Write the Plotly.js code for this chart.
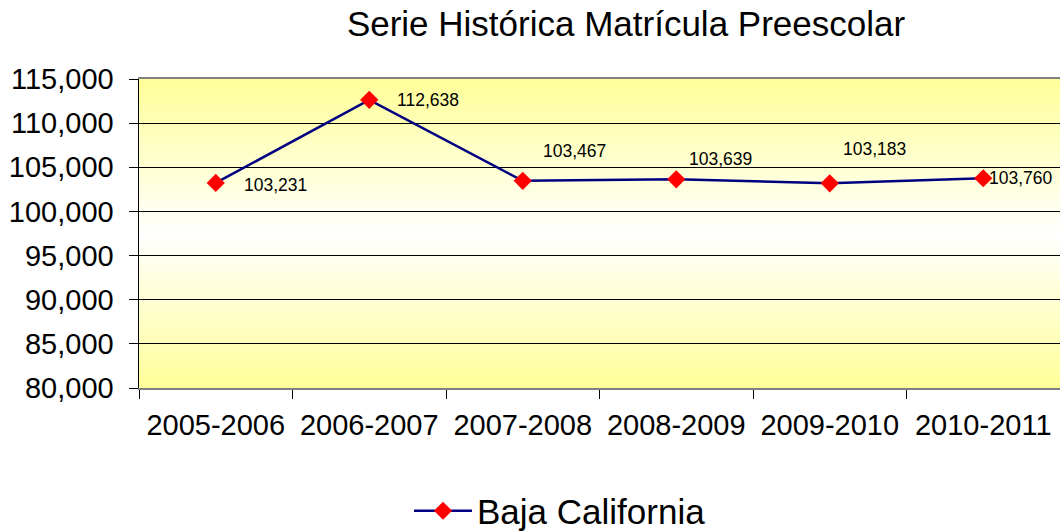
<!DOCTYPE html>
<html>
<head>
<meta charset="utf-8">
<script src="https://cdn.plot.ly/plotly-3.0.1.min.js"></script>
<style>
html,body{margin:0;padding:0;background:#fff;overflow:hidden;}
#chart{width:1060px;height:531px;}
</style>
</head>
<body>
<div id="chart"></div>
<script>
const categories = ["2005-2006","2006-2007","2007-2008","2008-2009","2009-2010","2010-2011"];
const seriesName = "Baja California";
const values = [103231, 112638, 103467, 103639, 103183, 103760];
const yTickVals = [80000, 85000, 90000, 95000, 100000, 105000, 110000, 115000];
const yTickText = ["80,000","85,000","90,000","95,000","100,000","105,000","110,000","115,000"];
// label offsets (style only, in px)
const labelShiftX = [26, 26, 18, 11, 11, 4];
const labelShiftY = [-2, 0, 30, 20, 34, 0];

const fmt = v => v.toLocaleString('en-US');
const FONT = "'Liberation Sans', Arial, sans-serif";

const gradSvg = '<svg xmlns="http://www.w3.org/2000/svg" width="100" height="100" preserveAspectRatio="none">' +
  '<defs><linearGradient id="g" x1="0" y1="0" x2="0" y2="1">' +
  '<stop offset="0" stop-color="#ffff99"/>' +
  '<stop offset="0.5" stop-color="#ffffff"/>' +
  '<stop offset="1" stop-color="#ffff99"/>' +
  '</linearGradient></defs><rect width="100" height="100" fill="url(#g)"/></svg>';
const gradUri = 'data:image/svg+xml;base64,' + btoa(gradSvg);

const trace = {
  type: 'scatter',
  mode: 'lines+markers',
  name: seriesName,
  x: categories,
  y: values,
  line: {color: '#000080', width: 2.5},
  marker: {symbol: 'diamond', size: 14, color: '#ff0000', line: {width: 0}},
  hoverinfo: 'skip'
};

const annotations = categories.map((c, i) => ({
  x: c, y: values[i], xref: 'x', yref: 'y',
  text: fmt(values[i]),
  showarrow: false,
  xanchor: 'left', yanchor: 'middle',
  xshift: labelShiftX[i], yshift: labelShiftY[i],
  font: {family: FONT, size: 17.5, color: '#000'}
}));

const layout = {
  width: 1060, height: 531,
  margin: {l: 139, r: 0, t: 79, b: 143, autoexpand: false},
  paper_bgcolor: '#ffffff',
  plot_bgcolor: 'rgba(0,0,0,0)',
  font: {family: FONT, color: '#000'},
  title: {
    text: 'Serie Histórica Matrícula Preescolar',
    font: {size: 35, color: '#000'},
    xref: 'container', yref: 'container',
    x: 626/1060, y: 1 - 24/531, xanchor: 'center', yanchor: 'middle'
  },
  xaxis: {
    type: 'category',
    range: [-0.5, 5.5],
    showgrid: false,
    showline: true, linecolor: '#808080', linewidth: 2, mirror: true,
    ticks: 'outside', tickson: 'boundaries', ticklen: 9, tickcolor: '#000', tickwidth: 1,
    ticklabelstandoff: 10,
    tickfont: {size: 29},
    zeroline: false
  },
  yaxis: {
    range: [80000, 115000],
    tickvals: yTickVals, ticktext: yTickText,
    showgrid: true, gridcolor: '#000', gridwidth: 1,
    showline: true, linecolor: '#000', linewidth: 1.5,
    ticks: 'outside', ticklen: 9, tickcolor: '#000', tickwidth: 1,
    ticklabelstandoff: 9,
    tickfont: {size: 29},
    zeroline: false
  },
  images: [{
    source: gradUri, xref: 'paper', yref: 'paper',
    x: 0, y: 1, sizex: 1, sizey: 1, sizing: 'stretch',
    xanchor: 'left', yanchor: 'top', layer: 'below'
  }],
  showlegend: true,
  legend: {
    orientation: 'h',
    xref: 'container', yref: 'container',
    x: 409/1060, y: 1 - 511/531, xanchor: 'left', yanchor: 'middle',
    itemwidth: 58,
    font: {size: 35}, bgcolor: 'rgba(0,0,0,0)'
  },
  annotations: annotations
};

Plotly.newPlot('chart', [trace], layout, {staticPlot: true, displayModeBar: false});
</script>
</body>
</html>
